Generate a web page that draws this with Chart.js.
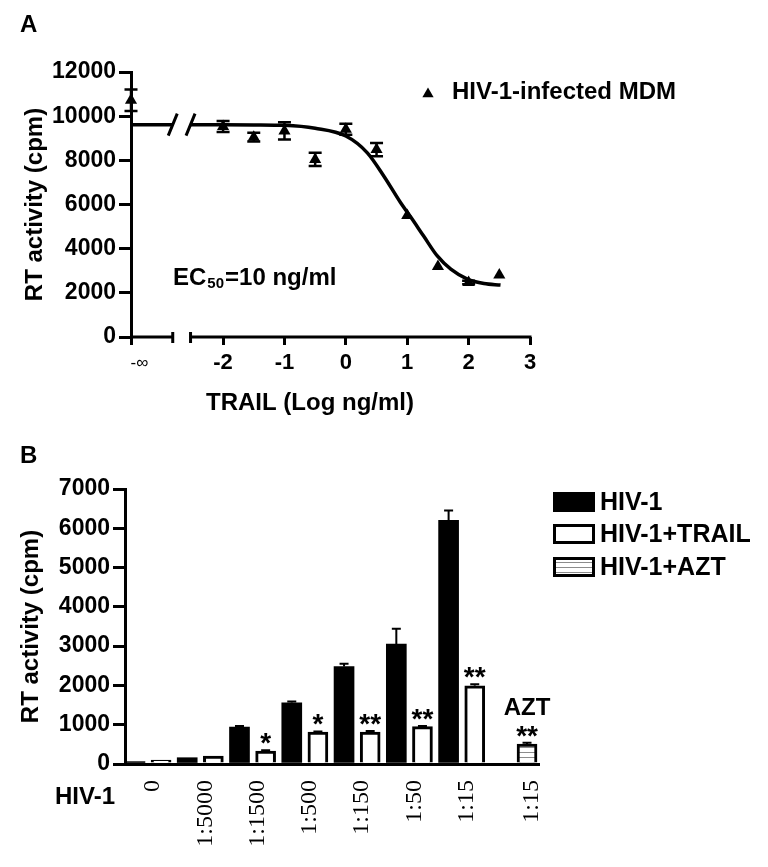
<!DOCTYPE html>
<html>
<head>
<meta charset="utf-8">
<script src="https://cdn.jsdelivr.net/npm/chart.js@4.4.1/dist/chart.umd.min.js"></script>
<style>
  body { margin: 0; background: #fff; }
  #wrap { position: relative; width: 768px; height: 867px; overflow: hidden; background: #fff; }
  canvas { position: absolute; left: 0; }
  .panel { position: absolute; left: 20px; font: bold 24px/24px 'Liberation Sans', Arial, sans-serif; color: #000; }
</style>
</head>
<body>
<div id="wrap">
  <canvas id="chartA" width="768" height="430" style="top:0"></canvas>
  <canvas id="chartB" width="768" height="427" style="top:440px"></canvas>
  <div class="panel" style="top:12px">A</div>
  <div class="panel" style="top:443px">B</div>
</div>
<script>
Chart.defaults.font.family = "'Liberation Sans', Arial, sans-serif";
Chart.defaults.color = '#000';

// =======================
// PANEL A DATA
// =======================
const NEG_INF = -3.5;                      // axis position of the "-∞" (no TRAIL) point
const doseLog = [NEG_INF, -2, -1.5, -1, -0.5, 0, 0.5, 1, 1.5, 2, 2.5];
const rtMean  = [10720, 9530, 9050, 9330, 8040, 9410, 8490, 5500, 3190, 2470, 2810];
const rtErr   = [490, 250, 200, 390, 300, 250, 300, 0, 0, 80, 0];

// fitted curve (null = the // break)
const fitX = [NEG_INF, -2.82, -2.68, -2.53, -2, -1.5, -1, -0.5, 0, 0.35, 0.62, 0.89, 1.06, 1.27, 1.49, 1.71, 1.98, 2.25, 2.52];
const fitY = [9616, 9616, null, 9616, 9612, 9605, 9585, 9450, 9100, 8340, 7280, 6090, 5420, 4560, 3670, 3070, 2620, 2420, 2350];

const xTicksA = [NEG_INF, -2, -1, 0, 1, 2, 3];
const axisBreak = [-2.82, -2.53];

// =======================
// PANEL B DATA
// =======================
const dilutions   = ['0', '1:5000', '1:1500', '1:500', '1:150', '1:50', '1:15'];
const hivOnly     = [60, 160, 940, 1560, 2480, 3050, 6200];
const hivOnlyErr  = [0, 0, 30, 30, 70, 390, 255];
const hivTrail    = [100, 200, 330, 810, 810, 950, 1990];
const hivTrailErr = [0, 0, 20, 20, 30, 20, 40];
const trailStars  = ['', '', '*', '*', '**', '**', '**'];
const aztDilution = ['1:15'];
const hivAzt      = [510];
const hivAztErr   = [30];
const aztStars    = ['**'];

const aztSlot = 2 * dilutions.length + 1;   // one empty slot before the AZT bar
const tickPosB = dilutions.map((d, i) => 2 * i + 0.5).concat([aztSlot]);
const tickLabB = dilutions.concat(aztDilution);

function hatchPattern(ctx) {
  const c = document.createElement('canvas');
  c.width = 8; c.height = 5;
  const g = c.getContext('2d');
  g.fillStyle = '#fff'; g.fillRect(0, 0, 8, 5);
  g.fillStyle = '#8c8c8c'; g.fillRect(0, 2, 8, 1);
  return ctx.createPattern(c, 'repeat');
}

// =======================
// HELPERS
// =======================
function drawErrorBars(chart, capHalf, lw) {
  const { ctx, scales: { y } } = chart;
  ctx.save();
  ctx.strokeStyle = '#000';
  ctx.lineWidth = lw;
  chart.data.datasets.forEach((ds, di) => {
    if (!ds.errors) return;
    chart.getDatasetMeta(di).data.forEach((el, i) => {
      const err = ds.errors[i];
      if (!err) return;
      const v = ds.data[i].y;
      const top = y.getPixelForValue(v + err);
      const both = ds.errorMode === 'both';
      const bot = both ? y.getPixelForValue(v - err) : el.y;
      ctx.beginPath();
      ctx.moveTo(el.x, bot); ctx.lineTo(el.x, top);
      ctx.moveTo(el.x - capHalf, top); ctx.lineTo(el.x + capHalf, top);
      if (both) { ctx.moveTo(el.x - capHalf, bot); ctx.lineTo(el.x + capHalf, bot); }
      ctx.stroke();
    });
  });
  ctx.restore();
}

function triangle(ctx, x, y, r) {
  ctx.beginPath();
  ctx.moveTo(x, y - r);
  ctx.lineTo(x + r * 0.866, y + r / 2);
  ctx.lineTo(x - r * 0.866, y + r / 2);
  ctx.closePath();
  ctx.fill();
}

// =======================
// PANEL A
// =======================
const panelAExtras = {
  id: 'panelAExtras',
  beforeDatasetsDraw(chart) {
    // broken x axis
    const { ctx, chartArea: a, scales: { x } } = chart;
    const b0 = x.getPixelForValue(axisBreak[0]), b1 = x.getPixelForValue(axisBreak[1]);
    ctx.save();
    ctx.strokeStyle = '#000';
    ctx.lineWidth = 3;
    ctx.beginPath();
    ctx.moveTo(a.left, a.bottom); ctx.lineTo(b0, a.bottom);
    ctx.moveTo(b1, a.bottom); ctx.lineTo(a.right + 1.5, a.bottom);
    ctx.moveTo(b0, a.bottom - 5); ctx.lineTo(b0, a.bottom + 6);
    ctx.moveTo(b1, a.bottom - 5); ctx.lineTo(b1, a.bottom + 6);
    ctx.stroke();
    ctx.restore();
  },
  afterDatasetsDraw(chart) {
    drawErrorBars(chart, 6.5, 2.5);
    // "//" on the curve
    const { ctx, scales: { x, y } } = chart;
    const py = y.getPixelForValue(fitY[0]);
    ctx.save();
    ctx.strokeStyle = '#000';
    ctx.lineWidth = 3;
    ctx.beginPath();
    axisBreak.forEach(v => {
      const px = x.getPixelForValue(v);
      ctx.moveTo(px - 4.5, py + 11); ctx.lineTo(px + 4.5, py - 11);
    });
    ctx.stroke();
    ctx.restore();
  },
  afterDraw(chart) {
    const { ctx, chartArea: a } = chart;
    ctx.save();
    ctx.fillStyle = '#000';
    // legend
    triangle(ctx, 428, 94, 6.5);
    ctx.font = "bold 24px 'Liberation Sans'";
    ctx.textBaseline = 'alphabetic';
    ctx.textAlign = 'left';
    ctx.fillText(chart.data.datasets[0].label, 452, 99);
    // EC50
    let tx = a.left + 42;
    const ty = a.bottom - 52;
    ctx.fillText('EC', tx, ty);
    tx += ctx.measureText('EC').width + 1;
    ctx.font = "bold 15px 'Liberation Sans'";
    ctx.fillText('50', tx, ty + 3);
    tx += ctx.measureText('50').width + 1;
    ctx.font = "bold 24px 'Liberation Sans'";
    ctx.fillText('=10 ng/ml', tx, ty);
    // x title
    ctx.textAlign = 'center';
    ctx.fillText('TRAIL (Log ng/ml)', 310, 410);
    ctx.restore();
  }
};

new Chart(document.getElementById('chartA'), {
  type: 'scatter',
  data: {
    datasets: [
      {
        label: 'HIV-1-infected MDM',
        data: doseLog.map((x, i) => ({ x, y: rtMean[i] })),
        errors: rtErr, errorMode: 'both',
        pointStyle: 'triangle', pointRadius: 7,
        backgroundColor: '#000', borderColor: '#000', borderWidth: 0,
        clip: false
      },
      {
        type: 'line',
        label: 'fit',
        data: fitX.map((x, i) => ({ x, y: fitY[i] })),
        borderColor: '#000', borderWidth: 3.5,
        pointRadius: 0, fill: false, spanGaps: false,
        cubicInterpolationMode: 'monotone',
        clip: false
      }
    ]
  },
  options: {
    responsive: false,
    animation: false,
    layout: { padding: { left: 0, top: 72, right: 238, bottom: 0 } },
    plugins: { legend: { display: false }, tooltip: { enabled: false } },
    scales: {
      x: {
        type: 'linear', min: NEG_INF, max: 3,
        afterBuildTicks: s => { s.ticks = xTicksA.map(v => ({ value: v })); },
        afterFit: s => { s.height = 93; },
        border: { display: false },
        grid: { drawOnChartArea: false, drawTicks: true, tickLength: 8, lineWidth: 3, color: '#000' },
        ticks: {
          autoSkip: false, maxRotation: 0, padding: 5, color: '#000',
          callback: v => v === NEG_INF ? '\u2003-∞' : String(v),
          font: c => (c.tick && c.tick.value === NEG_INF)
            ? { size: 17, weight: 'normal', lineHeight: 1.55 }
            : { size: 22, weight: 'bold' }
        }
      },
      y: {
        min: 0, max: 12000,
        afterFit: s => { s.width = 131; },
        border: { display: true, width: 3, color: '#000' },
        grid: { drawOnChartArea: false, drawTicks: true, tickLength: 12, lineWidth: 3, color: '#000' },
        ticks: { stepSize: 2000, padding: 3, color: '#000', font: { size: 23, weight: 'bold' }, callback: v => String(v) },
        title: { display: true, text: 'RT activity (cpm)', color: '#000', font: { size: 24, weight: 'bold' }, padding: { top: 21, bottom: 0 } }
      }
    }
  },
  plugins: [panelAExtras]
});

// =======================
// PANEL B
// =======================
const ctxB = document.getElementById('chartB').getContext('2d');
const hatch = hatchPattern(ctxB);

const panelBExtras = {
  id: 'panelBExtras',
  afterDatasetsDraw(chart) {
    drawErrorBars(chart, 4.5, 2);
    const { ctx, chartArea: a, scales: { y } } = chart;
    ctx.save();
    ctx.fillStyle = '#000';
    ctx.textAlign = 'center';
    ctx.textBaseline = 'alphabetic';
    chart.data.datasets.forEach((ds, di) => {
      if (!ds.stars) return;
      chart.getDatasetMeta(di).data.forEach((el, i) => {
        const s = ds.stars[i];
        if (!s) return;
        ctx.font = "bold 28px 'Liberation Sans'";
        const m = ctx.measureText(s);
        const top = y.getPixelForValue(ds.data[i].y + (ds.errors[i] || 0));
        const base = top - 6 - m.actualBoundingBoxDescent;
        ctx.fillText(s, el.x, base);
        if (ds.topLabel) {
          ctx.font = "bold 24px 'Liberation Sans'";
          ctx.fillText(ds.topLabel, el.x, base - m.actualBoundingBoxAscent - 11);
        }
      });
    });
    // row label under the axis
    ctx.font = "bold 24px 'Liberation Sans'";
    ctx.textAlign = 'right';
    ctx.textBaseline = 'middle';
    ctx.fillText('HIV-1', a.left - 10, a.bottom + 33);
    ctx.restore();
  },
  afterDraw(chart) {
    // legend, top-right of panel B (canvas coordinates)
    const ctx = chart.ctx;
    const rows = [62, 94, 127];
    ctx.save();
    chart.data.datasets.forEach((ds, di) => {
      const cy = rows[di];
      ctx.fillStyle = ds.backgroundColor;
      ctx.fillRect(553, cy - 10, 42, 20);
      if (ds.borderWidth) {
        ctx.strokeStyle = ds.borderColor;
        ctx.lineWidth = ds.borderWidth;
        ctx.strokeRect(554.5, cy - 8.5, 39, 17);
      }
      ctx.fillStyle = '#000';
      ctx.font = "bold 25px 'Liberation Sans'";
      ctx.textAlign = 'left';
      ctx.textBaseline = 'middle';
      ctx.fillText(ds.label, 600, cy + 1);
    });
    ctx.restore();
  }
};

new Chart(ctxB, {
  type: 'bar',
  data: {
    datasets: [
      {
        label: 'HIV-1',
        data: hivOnly.map((v, i) => ({ x: 2 * i, y: v })),
        errors: hivOnlyErr,
        backgroundColor: '#000', borderWidth: 0
      },
      {
        label: 'HIV-1+TRAIL',
        data: hivTrail.map((v, i) => ({ x: 2 * i + 1, y: v })),
        errors: hivTrailErr, stars: trailStars,
        backgroundColor: '#fff', borderColor: '#000', borderWidth: 3
      },
      {
        label: 'HIV-1+AZT',
        data: hivAzt.map(v => ({ x: aztSlot, y: v })),
        errors: hivAztErr, stars: aztStars, topLabel: 'AZT',
        backgroundColor: hatch, borderColor: '#000', borderWidth: 3
      }
    ]
  },
  options: {
    responsive: false,
    animation: false,
    datasets: { bar: { grouped: false, barThickness: 20 } },
    layout: { padding: { left: 0, top: 49, right: 230, bottom: 0 } },
    plugins: { legend: { display: false }, tooltip: { enabled: false } },
    scales: {
      x: {
        type: 'linear', min: -0.38, max: 15.42, offset: false,
        afterBuildTicks: s => { s.ticks = tickPosB.map(v => ({ value: v })); },
        afterFit: s => { s.height = 103; },
        border: { display: true, width: 3, color: '#000' },
        grid: { display: true, drawOnChartArea: false, drawTicks: false, offset: false, color: '#000', lineWidth: 3 },
        ticks: {
          autoSkip: false, minRotation: 90, maxRotation: 90, padding: 16, labelOffset: 5,
          color: '#000',
          font: { family: "'Liberation Serif', 'Times New Roman', serif", size: 24, weight: 'normal' },
          callback: (v, i) => tickLabB[i]
        }
      },
      y: {
        min: 0, max: 7000,
        afterFit: s => { s.width = 125; },
        border: { display: true, width: 3, color: '#000' },
        grid: { drawOnChartArea: false, drawTicks: true, tickLength: 12, lineWidth: 3, color: '#000' },
        ticks: { stepSize: 1000, padding: 3, color: '#000', font: { size: 23, weight: 'bold' }, callback: v => String(v) },
        title: { display: true, text: 'RT activity (cpm)', color: '#000', font: { size: 24, weight: 'bold' }, padding: { top: 17, bottom: 0 } }
      }
    }
  },
  plugins: [panelBExtras]
});
</script>
</body>
</html>
